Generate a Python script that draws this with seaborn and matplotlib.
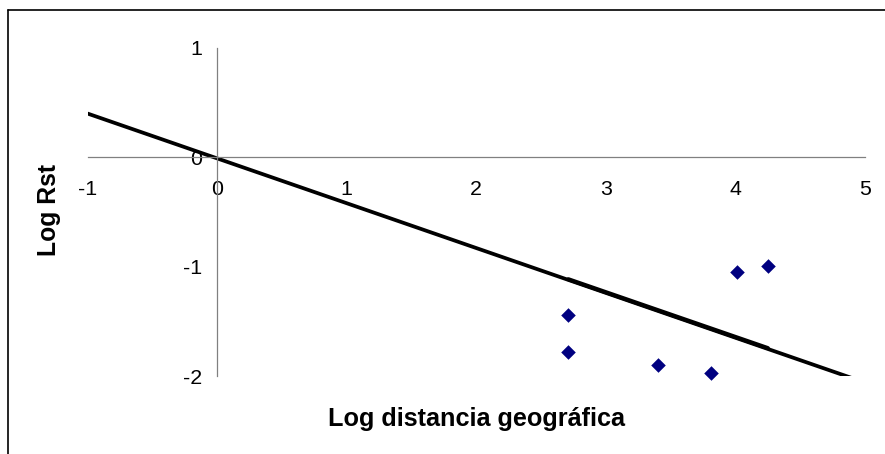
import matplotlib
matplotlib.use('Agg')
import matplotlib.pyplot as plt
import seaborn as sns
import pandas as pd
from matplotlib.lines import Line2D

sns.set_style('white')
plt.rcParams['font.family'] = ['Liberation Sans', 'DejaVu Sans']
plt.rcParams['axes.unicode_minus'] = False

# puntos observados
log_dist = [2.71, 2.71, 3.40, 3.81, 4.01, 4.25]
log_rst = [-1.44, -1.78, -1.90, -1.97, -1.05, -0.99]

# recta de referencia y tramo de tendencia
line_x = [-1.0, 5.0]
line_y = [0.40, -2.06]
trend_x = [2.71, 4.25]
trend_y = [-1.115, -1.745]

x_ticks = [-1, 0, 1, 2, 3, 4, 5]
y_ticks = [-2, -1, 0, 1]

pts = pd.DataFrame({'x': log_dist, 'y': log_rst})
ref = pd.DataFrame({'x': line_x, 'y': line_y})
trend = pd.DataFrame({'x': trend_x, 'y': trend_y})

fig = plt.figure(figsize=(8.85, 4.54), dpi=100)
ax = fig.add_axes([0.0991, 0.1718, 0.8783, 0.7225])

sns.lineplot(data=ref, x='x', y='y', color='black', linewidth=2.7, ax=ax)
sns.lineplot(data=trend, x='x', y='y', color='black', linewidth=3.0, ax=ax)
sns.scatterplot(data=pts, x='x', y='y', marker='D', s=55, color='#000080',
                edgecolor='#000080', linewidth=0, ax=ax, zorder=5, clip_on=False)

ax.set_xlim(-1, 5)
ax.set_ylim(-2, 1)
ax.set_xticks(x_ticks)
ax.set_yticks(y_ticks)

for side in ['top', 'right']:
    ax.spines[side].set_visible(False)
ax.spines['left'].set_position(('data', 0))
ax.spines['bottom'].set_position(('data', 0))
for side in ['left', 'bottom']:
    ax.spines[side].set_color('#808080')
    ax.spines[side].set_linewidth(0.9)

ax.tick_params(axis='both', direction='out', length=3.6, width=0.9,
               color='#808080', labelsize=15.4, labelcolor='black')
ax.tick_params(axis='x', pad=13)
ax.tick_params(axis='y', pad=7)

ax.set_xlabel('Log distancia geográfica', fontsize=18.2, fontweight='bold', color='black')
ax.set_ylabel('Log Rst', fontsize=17.8, fontweight='bold', color='black')
ax.xaxis.label.set_va('center')
ax.yaxis.label.set_va('center')
ax.xaxis.set_label_coords(0.5, -0.131)
ax.yaxis.set_label_coords(-0.050, 0.506)

# marco exterior del gráfico (solo se ven los bordes izquierdo y superior)
fig.add_artist(Line2D([0.009, 0.009], [0.0, 0.978], color='black', linewidth=1.2,
                      transform=fig.transFigure))
fig.add_artist(Line2D([0.009, 1.0], [0.978, 0.978], color='black', linewidth=1.2,
                      transform=fig.transFigure))

fig.savefig('out.png', dpi=100)
